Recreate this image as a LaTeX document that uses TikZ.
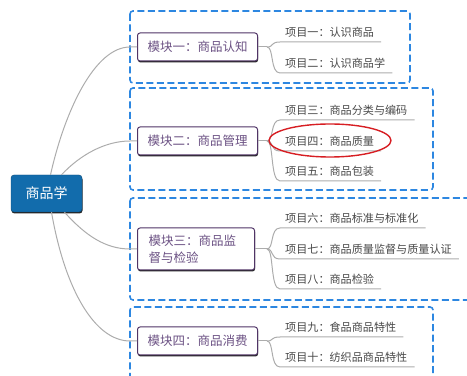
\documentclass[tikz,border=0pt]{standalone}
\usepackage{fontspec}
\setmainfont{Noto Sans CJK SC}
\usetikzlibrary{shadows}
\definecolor{rootblue}{RGB}{18,108,172}
\definecolor{modline}{RGB}{80,52,102}
\definecolor{modtext}{RGB}{108,82,132}
\definecolor{boxblue}{RGB}{45,135,225}
\definecolor{twiggray}{RGB}{172,172,172}
\definecolor{itemtext}{RGB}{72,72,72}
\definecolor{markred}{RGB}{215,30,35}
\tikzset{
  root/.style={draw=rootblue!70!black,fill=rootblue,text=white,rounded corners=3bp,
    minimum width=71bp,minimum height=37bp,font=\fontsize{14bp}{16bp}\selectfont,
    drop shadow={shadow xshift=0.5bp,shadow yshift=-1.5bp,opacity=0.85,fill=black}},
  module/.style={draw=modline,line width=1bp,fill=white,text=modtext,rounded corners=2.5bp,
    anchor=west,minimum width=120bp,minimum height=28bp,inner xsep=10bp,
    font=\fontsize{12.5bp}{17bp}\selectfont,
    drop shadow={shadow xshift=0.5bp,shadow yshift=-1.5bp,opacity=0.85,fill=black}},
  item/.style={anchor=south west,inner xsep=0bp,inner ysep=3.5bp,text height=8.5bp,
    text depth=2bp,text=itemtext,font=\fontsize{11.1bp}{13bp}\selectfont},
  frame/.style={draw=boxblue,line width=1.6bp,dash pattern=on 7bp off 3.5bp,rounded corners=3bp},
  twig/.style={draw=twiggray,line width=1bp},
}
\begin{document}
\begin{tikzpicture}[line join=round]
    \useasboundingbox (0bp,0bp) rectangle (467bp,376bp);
    \clip (0bp,0bp) rectangle (467bp,376bp);
    %% module frames
    \draw [frame] (130bp,365bp) rectangle (410bp,293bp);
    \draw [frame] (130bp,288bp) rectangle (433bp,186bp);
    \draw [frame] (130bp,178bp) rectangle (480bp,76bp);
    \draw [frame] (130bp,69bp) rectangle (433bp,-15bp);
    %%
    \node (root) at (46.5bp,182.5bp) [root] {商品学};
    \node (m1) at (137bp,329bp) [module] {模块一：商品认知};
    \node (m2) at (137bp,235bp) [module] {模块二：商品管理};
    \node (m3) at (137bp,127bp) [module,minimum width=117bp,minimum height=42bp,
      text width=95bp,inner xsep=11bp,align=left] {模块三：商品监\\督与检验};
    \node (m4) at (137bp,35bp) [module] {模块四：商品消费};
    \coordinate (h1) at (267bp,329bp);
    \coordinate (h2) at (267bp,235bp);
    \coordinate (h3) at (267bp,127bp);
    \coordinate (h4) at (267bp,35bp);
    \node (i1) at (285bp,334bp) [item] {项目一：认识商品};
    \node (i2) at (285bp,303bp) [item] {项目二：认识商品学};
    \node (i3) at (285bp,256bp) [item] {项目三：商品分类与编码};
    \node (i4) at (285bp,225bp) [item] {项目四：商品质量};
    \node (i5) at (285bp,195bp) [item] {项目五：商品包装};
    \node (i6) at (285bp,148bp) [item] {项目六：商品标准与标准化};
    \node (i7) at (285bp,117bp) [item] {项目七：商品质量监督与质量认证};
    \node (i8) at (285bp,87bp) [item] {项目八：商品检验};
    \node (i9) at (285bp,39bp) [item] {项目九：食品商品特性};
    \node (i10) at (285bp,9bp) [item] {项目十：纺织品商品特性};
    %% root to modules
    \draw [twig] ([xshift=4bp]root.north) ..controls (65bp,266bp) and (95bp,329bp) .. (130bp,329bp) -- (m1);
    \draw [twig] ([xshift=15bp]root.north) ..controls (80bp,221bp) and (105bp,235bp) .. (130bp,235bp) -- (m2);
    \draw [twig] ([xshift=18bp]root.south) ..controls (85bp,141bp) and (105bp,127bp) .. (130bp,127bp) -- (m3);
    \draw [twig] ([xshift=5bp]root.south) ..controls (65bp,86bp) and (95bp,35bp) .. (130bp,35bp) -- (m4);
    %% modules to items
    \draw [twig] (m1) -- (h1);
    \draw [twig] (h1) ..controls (274bp,329bp) and (270bp,334bp) .. (280bp,334bp) -- ([xshift=7bp]i1.south east);
    \draw [twig] (h1) ..controls (274bp,329bp) and (270bp,303bp) .. (280bp,303bp) -- ([xshift=7bp]i2.south east);
    \draw [twig] (m2) -- (h2);
    \draw [twig] (h2) ..controls (274bp,235bp) and (270bp,256bp) .. (280bp,256bp) -- ([xshift=7bp]i3.south east);
    \draw [twig] (h2) ..controls (274bp,235bp) and (270bp,225bp) .. (280bp,225bp) -- ([xshift=7bp]i4.south east);
    \draw [twig] (h2) ..controls (274bp,235bp) and (270bp,195bp) .. (280bp,195bp) -- ([xshift=7bp]i5.south east);
    \draw [twig] (m3) -- (h3);
    \draw [twig] (h3) ..controls (274bp,127bp) and (270bp,148bp) .. (280bp,148bp) -- ([xshift=7bp]i6.south east);
    \draw [twig] (h3) ..controls (274bp,127bp) and (270bp,117bp) .. (280bp,117bp) -- ([xshift=7bp]i7.south east);
    \draw [twig] (h3) ..controls (274bp,127bp) and (270bp,87bp) .. (280bp,87bp) -- ([xshift=7bp]i8.south east);
    \draw [twig] (m4) -- (h4);
    \draw [twig] (h4) ..controls (274bp,35bp) and (270bp,39bp) .. (280bp,39bp) -- ([xshift=7bp]i9.south east);
    \draw [twig] (h4) ..controls (274bp,35bp) and (270bp,9bp) .. (280bp,9bp) -- ([xshift=7bp]i10.south east);
    %% highlight
    \draw [markred,line width=1.4bp] (330bp,235.5bp) ellipse [x radius=61bp,y radius=16.5bp];
    %
\end{tikzpicture}
\end{document}
